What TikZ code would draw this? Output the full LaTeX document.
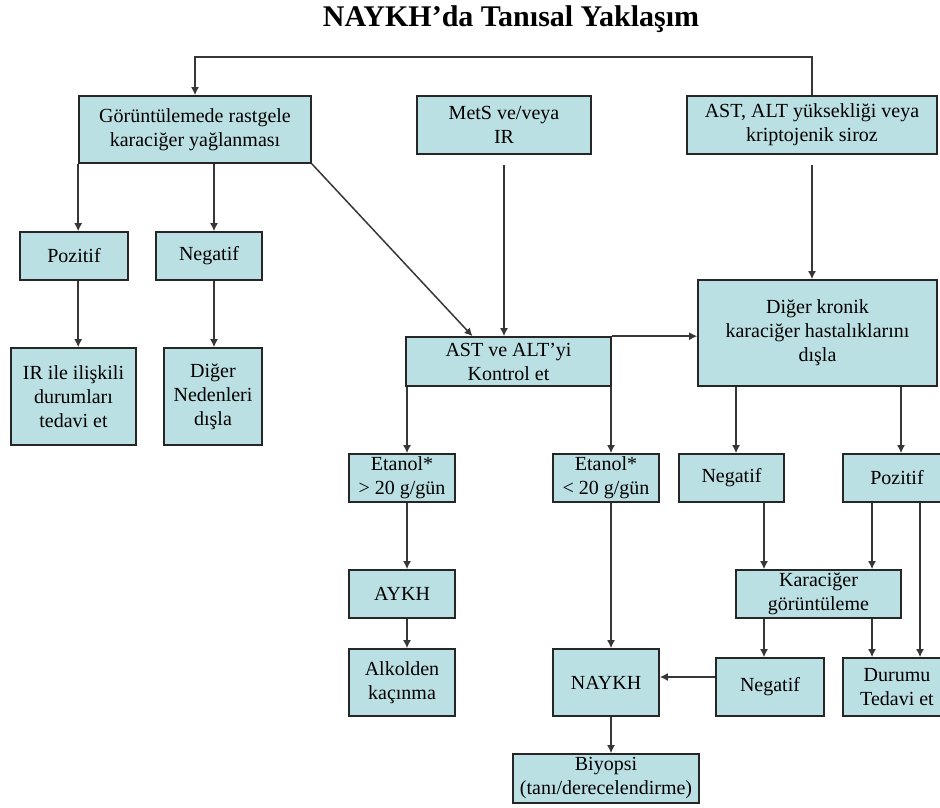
\documentclass[tikz,border=0pt]{standalone}
\usepackage{fontspec}
\setmainfont{Liberation Serif}
\usetikzlibrary{arrows.meta}
\definecolor{kutumavi}{RGB}{187,224,227}
\definecolor{cizgi}{RGB}{55,55,55}
\begin{document}
\begin{tikzpicture}[x=1pt, y=-1pt,
    kutu/.style={draw=black!85, line width=1.6pt, fill=kutumavi, align=center, inner sep=0pt, font=\fontsize{20}{24}\selectfont},
    ok/.style={draw=cizgi, line width=1.5pt, -{Latex[length=8pt,width=8pt]}}]
        \useasboundingbox (0,0) rectangle (940,808);
        \clip (0,0) rectangle (940,808);

        % Title
        \node[font=\fontsize{30}{36}\selectfont\bfseries, anchor=base] (baslik) at (511,27) {NAYKH’da Tanısal Yaklaşım};

        % Top row
        \node[kutu, minimum width=232, minimum height=67] (gor) at (195,129.5) {Görüntülemede rastgele\\karaciğer yağlanması};
        \node[kutu, minimum width=174, minimum height=58] (mets) at (504,125) {MetS ve/veya\\IR};
        \node[kutu, minimum width=250, minimum height=58] (astalt) at (812,125) {AST, ALT yüksekliği veya\\kriptojenik siroz};

        % Left branch
        \node[kutu, minimum width=108, minimum height=48] (poz1) at (74,256) {Pozitif};
        \node[kutu, minimum width=106, minimum height=48] (neg1) at (209,256) {Negatif};
        \node[kutu, minimum width=125, minimum height=97] (irt) at (73.5,396.5) {IR ile ilişkili\\durumları\\tedavi et};
        \node[kutu, minimum width=98, minimum height=97] (dig) at (213,396.5) {Diğer\\Nedenleri\\dışla};

        % Middle row
        \node[kutu, minimum width=205, minimum height=49] (kontrol) at (508.5,361.5) {AST ve ALT’yi\\Kontrol et};
        \node[kutu, minimum width=239, minimum height=106] (dislama) at (817.5,333) {Diğer kronik\\karaciğer hastalıklarını\\dışla};

        % Ethanol and exclusion results
        \node[kutu, minimum width=106, minimum height=48] (etust) at (402,478) {Etanol*\\> 20 g/gün};
        \node[kutu, minimum width=106, minimum height=48] (etalt) at (606,478) {Etanol*\\< 20 g/gün};
        \node[kutu, minimum width=105, minimum height=48] (neg2) at (731.5,478) {Negatif};
        \node[kutu, minimum width=108, minimum height=48] (poz2) at (897,478) {Pozitif};

        \node[kutu, minimum width=106, minimum height=48] (aykh) at (402,594) {AYKH};
        \node[kutu, minimum width=165, minimum height=48] (goruntu) at (818.5,594) {Karaciğer\\görüntüleme};

        % Bottom rows
        \node[kutu, minimum width=106, minimum height=67] (alkol) at (402,682.5) {Alkolden\\kaçınma};
        \node[kutu, minimum width=106, minimum height=67] (naykh) at (606,682.5) {NAYKH};
        \node[kutu, minimum width=108, minimum height=58] (neg3) at (770,687) {Negatif};
        \node[kutu, minimum width=108, minimum height=58] (durum) at (897,687) {Durumu\\Tedavi et};
        \node[kutu, minimum width=186, minimum height=49] (biyopsi) at (606,778.5) {Biyopsi\\(tanı/derecelendirme)};

        % Columns for the vertical connectors
        \coordinate (ust) at (0,57);
        \coordinate (k1) at (214,0);
        \coordinate (k2) at (407,0);
        \coordinate (k3) at (611,0);
        \coordinate (k4) at (736,0);
        \coordinate (k5) at (764,0);
        \coordinate (k6) at (872,0);
        \coordinate (k7) at (901,0);
        \coordinate (k8) at (920,0);

        % Connectors
        \draw[ok] (astalt.north) -- (astalt.north |- ust) -| (gor.north);
        \draw[ok] (gor.south west) -- (gor.south west |- poz1.north);
        \draw[ok] (poz1.south -| gor.south west) -- (irt.north -| gor.south west);
        \draw[ok] (gor.south -| k1) -- (neg1.north -| k1);
        \draw[ok] (neg1.south -| k1) -- (dig.north -| k1);
        \draw[ok] (gor.south east) -- ([xshift=-36pt]kontrol.north);
        \draw[ok] ([yshift=-10pt]mets.south) -- (mets.south |- kontrol.north);
        \draw[ok] ([yshift=-10pt]astalt.south) -- (astalt.south |- dislama.north);
        \draw[ok] (kontrol.north east) -- (kontrol.north east -| dislama.west);

        \draw[ok] (kontrol.south -| k2) -- (etust.north -| k2);
        \draw[ok] (etust.south -| k2) -- (aykh.north -| k2);
        \draw[ok] (aykh.south -| k2) -- (alkol.north -| k2);

        \draw[ok] (kontrol.south -| k3) -- (etalt.north -| k3);
        \draw[ok] (etalt.south -| k3) -- (naykh.north -| k3);
        \draw[ok] (naykh.south -| k3) -- (biyopsi.north -| k3);

        \draw[ok] (dislama.south -| k4) -- (neg2.north -| k4);
        \draw[ok] (dislama.south -| k7) -- (poz2.north -| k7);
        \draw[ok] (neg2.south -| k5) -- (goruntu.north -| k5);
        \draw[ok] (poz2.south -| k6) -- (goruntu.north -| k6);
        \draw[ok] (poz2.south -| k8) -- (durum.north -| k8);
        \draw[ok] (goruntu.south -| k5) -- (neg3.north -| k5);
        \draw[ok] (goruntu.south -| k6) -- (durum.north -| k6);
        \draw[ok] ([yshift=10pt]neg3.west) -- ([yshift=10pt]neg3.west -| naykh.east);
\end{tikzpicture}
\end{document}
